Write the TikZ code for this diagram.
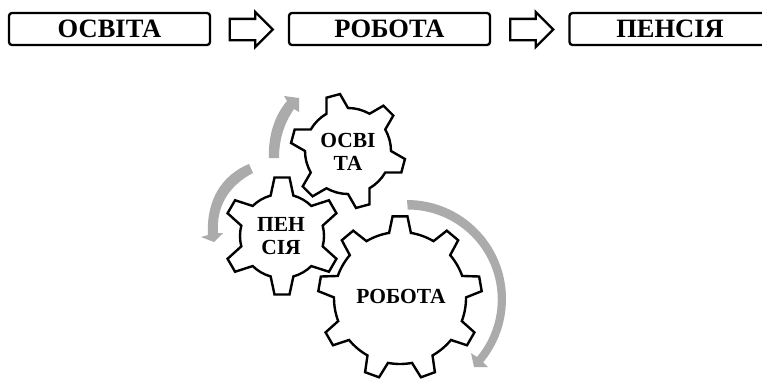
\documentclass[tikz,border=0pt]{standalone}
\usepackage{fontspec}
\setmainfont{Liberation Serif}
\usetikzlibrary{shapes.arrows}
\definecolor{arcgray}{HTML}{ABABAB}
\tikzset{
  stagebox/.style={draw=black,line width=2.3pt,rounded corners=3pt,minimum width=201pt,minimum height=32pt,inner sep=0pt,font=\fontsize{26.5}{26.5}\selectfont\bfseries},
  blockarrow/.style={draw=black,line width=2.3pt,single arrow,single arrow head extend=7pt,minimum height=43pt,inner xsep=0pt,inner ysep=9.5pt,text width=0pt,text height=0pt,text depth=0pt},
  gearline/.style={draw=black,line width=2.4pt,line join=miter,fill=white},
  geartext/.style={align=center,font=\fontsize{21.5}{23}\selectfont\bfseries,inner sep=0pt},
  sweep/.style={fill=arcgray,draw=none}
}
% #1 centre, #2 teeth, #3 tip radius, #4 root radius, #5 first tooth angle, #6 tip half angle, #7 base half angle
\newcommand{\gearshape}[7]{%
  \pgfmathsetmacro{\gstep}{360/#2}
  \pgfmathtruncatemacro{\glast}{#2-1}
  \draw[gearline] \foreach \k in {0,...,\glast}{%
    \pgfextra{\pgfmathsetmacro{\ga}{#5+\k*\gstep}}
    [shift={#1}] \ifnum\k=0 (\ga-#7:#4pt) \else -- (\ga-#7:#4pt) \fi
    -- (\ga-#6:#3pt) -- (\ga+#6:#3pt) -- (\ga+#7:#4pt)
    arc[start angle=\ga+#7,end angle=\ga+\gstep-#7,radius=#4pt]
  } -- cycle;
}
\begin{document}
\begin{tikzpicture}[x=1pt,y=-1pt]
\useasboundingbox (0,0) rectangle (762,378);
\node[stagebox] (edu1) at (109.5,29) {ОСВІТА};
\node[stagebox] (work1) at (389.5,29) {РОБОТА};
\node[stagebox] (pens1) at (670,29) {ПЕНСІЯ};
\node[blockarrow] (arrA) at (246,29.5) {};
\node[blockarrow] (arrB) at (526.5,29.5) {};
% sweep arrows
\path[sweep] (407,200) arc[start angle=90,end angle=-39.7,radius=99pt]
  -- (488,367) -- (474,367) -- (471,353) -- (477,357)
  arc[start angle=-39.7,end angle=90,radius=90pt] -- cycle;
\path[sweep] (249,164) .. controls (222,175) and (206,200) .. (208,235)
  -- (201,237) -- (214,242) -- (223,233) -- (218,233)
  .. controls (216,205) and (230,185) .. (253,173) -- cycle;
\path[sweep] (269,158) .. controls (268,135) and (275,115) .. (287,101)
  -- (284,96) -- (299,98) -- (299,112) -- (294,109)
  .. controls (285,122) and (279,138) .. (279,158) -- cycle;
% gears
\gearshape{(348,151)}{6}{57.5}{43}{45}{7}{15}
\gearshape{(282,236)}{6}{59}{42}{30}{7.3}{15.7}
\gearshape{(400,298)}{9}{82}{66}{10}{5.2}{9.5}
\node[geartext] (edu2) at (348,152) {ОСВІ\\ТА};
\node[geartext] (pens2) at (281,236) {ПЕН\\СІЯ};
\node[geartext] (work2) at (401,296) {РОБОТА};
\end{tikzpicture}
\end{document}
